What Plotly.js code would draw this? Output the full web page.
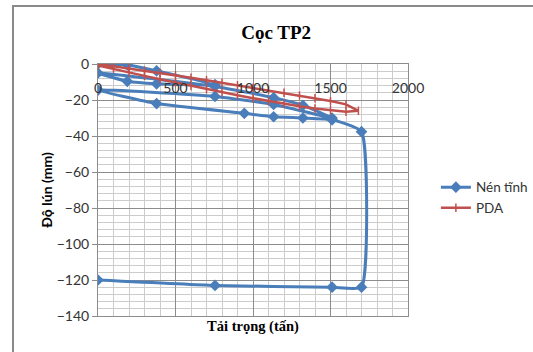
<!DOCTYPE html>
<html>
<head>
<meta charset="utf-8">
<script src="https://cdn.plot.ly/plotly-3.0.1.min.js"></script>
<style>
html,body{margin:0;padding:0;width:533px;height:352px;overflow:hidden;background:#fff;}
#frame{position:absolute;left:12px;top:5px;width:540px;height:360px;border:2px solid #8a8a8a;box-sizing:border-box;}
#chart{position:absolute;left:0;top:0;width:533px;height:352px;}
</style>
</head>
<body>
<div id="frame"></div>
<div id="chart"></div>
<script>
// Nén tĩnh (static load test): load (tấn) and settlement (mm)
var staticLoad = [0, 189, 378, 755, 378, 189, 0, 755, 1133, 1322, 1510, 1133, 755, 0, 378, 944, 1133, 1322, 1510, 1700, 1700, 1510, 755, 0];
var staticSettle = [0, -0.5, -3.8, -11.5, -11, -9.6, -5, -12.5, -18.7, -23, -30, -22.5, -18, -14.5, -22, -27.4, -29.3, -30, -31, -37.6, -124, -124, -123, -120];

// PDA simulated curve
var pdaLoad = [0, 100, 200, 300, 400, 500, 600, 700, 800, 900, 1000, 1100, 1200, 1300, 1400, 1500, 1600, 1680,
               1600, 1500, 1400, 1300, 1200, 1100, 1000, 900, 800, 700, 600, 500, 400, 300, 200, 100, 0];
var pdaSettle = [0, -1.2, -2.4, -3.7, -5.0, -6.3, -7.6, -9.0, -10.4, -11.8, -13.2, -14.6, -16.0, -17.5, -19.0, -20.6, -22.4, -26.0,
                 -26.5, -25.7, -24.7, -23.5, -22.1, -20.6, -19.0, -17.4, -15.7, -14.0, -12.2, -10.4, -8.5, -6.6, -4.6, -2.6, -0.8];

var xTicks = [0, 500, 1000, 1500, 2000];
var yTicks = [0, -20, -40, -60, -80, -100, -120, -140];

var traces = [
  {
    x: staticLoad, y: staticSettle, name: 'Nén tĩnh', type: 'scatter', mode: 'lines+markers',
    xaxis: 'x', yaxis: 'y',
    line: {color: '#4a7ebb', width: 3, shape: 'spline', smoothing: 0.45},
    marker: {symbol: 'diamond', size: 9, color: '#4a7ebb'}
  },
  {
    x: pdaLoad, y: pdaSettle, name: 'PDA', type: 'scatter', mode: 'lines+markers',
    xaxis: 'x2', yaxis: 'y',
    line: {color: '#c0504d', width: 2.5},
    marker: {symbol: 'line-ns-open', size: 6, color: '#c0504d', line: {color: '#c0504d', width: 1.5}}
  }
];

var gridMajor = '#8c8c8c', gridMinor = '#cccccc';
var tickFont = {family: 'Lato, "Open Sans", sans-serif', size: 14, color: '#333'};

var layout = {
  width: 533, height: 352,
  margin: {l: 98, r: 125, t: 64, b: 36, autoexpand: false},
  paper_bgcolor: 'rgba(0,0,0,0)', plot_bgcolor: '#fff',
  showlegend: true,
  title: {text: 'Cọc TP2', x: 0.518, xref: 'container', xanchor: 'center', y: 0.909, yref: 'container', yanchor: 'middle',
          font: {family: '"Liberation Serif", "Times New Roman", serif', size: 19, color: '#000', weight: 'bold'}},
  xaxis: {
    range: [0, 2000], tickvals: xTicks, showticklabels: false, ticks: '',
    showgrid: true, gridcolor: gridMajor, gridwidth: 1,
    minor: {dtick: 100, showgrid: true, gridcolor: gridMinor, gridwidth: 1},
    showline: true, mirror: true, linecolor: '#8c8c8c', linewidth: 1, zeroline: false,
    title: {text: 'Tải trọng (tấn)', standoff: 4,
            font: {family: '"Liberation Serif", "Times New Roman", serif', size: 14.5, color: '#000', weight: 'bold'}}
  },
  xaxis2: {
    overlaying: 'x', anchor: 'free', position: 0.945, side: 'bottom',
    range: [0, 2000], tickvals: xTicks, ticks: '', showgrid: false, showline: false, zeroline: false,
    tickfont: tickFont
  },
  yaxis: {
    range: [-140, 0], tickvals: yTicks, ticks: 'outside', ticklen: 5, tickcolor: '#8c8c8c',
    showgrid: true, gridcolor: gridMajor, gridwidth: 1,
    minor: {dtick: 4, showgrid: true, gridcolor: gridMinor, gridwidth: 1, ticks: ''},
    showline: true, mirror: true, linecolor: '#8c8c8c', linewidth: 1, zeroline: false,
    tickfont: tickFont,
    title: {text: 'Độ lún (mm)', standoff: 0,
            font: {family: 'Lato, "Open Sans", sans-serif', size: 14, color: '#000', weight: 'bold'}}
  },
  legend: {x: 1.09, y: 0.572, xanchor: 'left', yanchor: 'top', bgcolor: 'rgba(0,0,0,0)',
           font: {family: 'Lato, "Open Sans", sans-serif', size: 13.5, color: '#333'},
           tracegroupgap: 8, itemwidth: 30}
};

Plotly.newPlot('chart', traces, layout, {displayModeBar: false, staticPlot: true});
</script>
</body>
</html>
